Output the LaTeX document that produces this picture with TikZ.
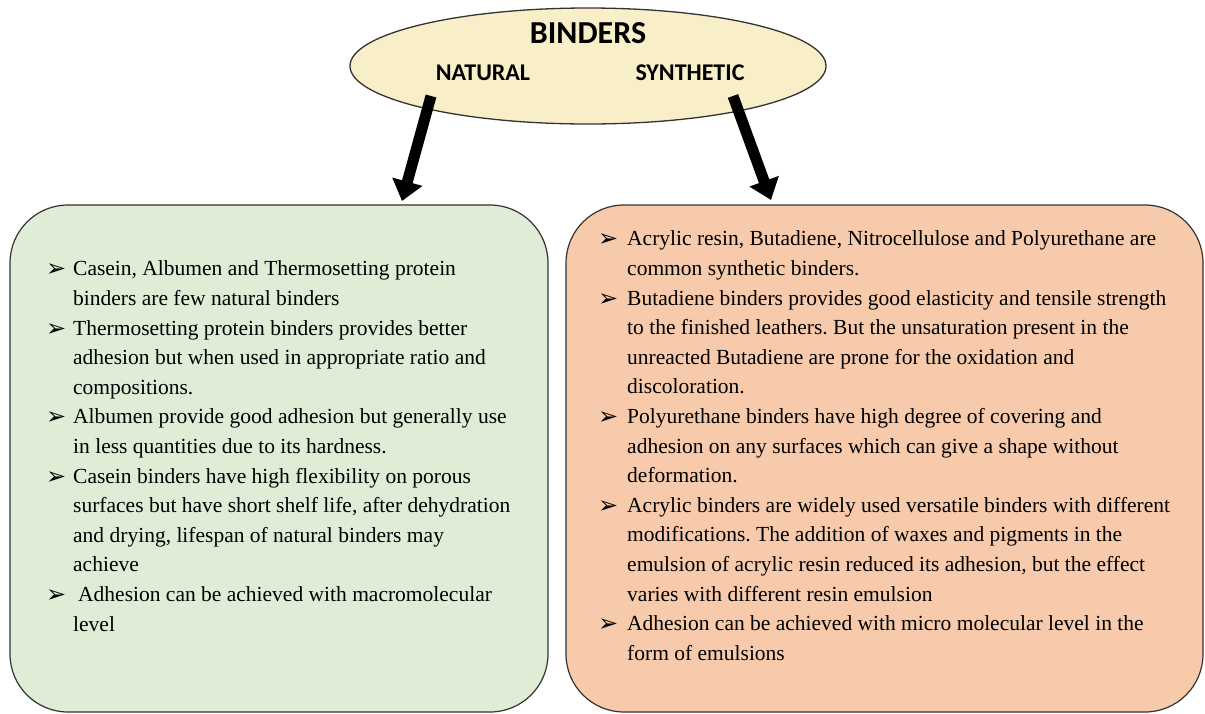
\documentclass[tikz,border=0pt]{standalone}
\usepackage{fontspec}
\setmainfont{Liberation Serif}
\newfontfamily\headfont{Carlito}
\newfontfamily\symfont{DejaVu Sans}
\usetikzlibrary{arrows.meta,shapes.geometric}
\frenchspacing

\definecolor{ellfill}{HTML}{F8EEC8}
\definecolor{natfill}{HTML}{E0EDD6}
\definecolor{synfill}{HTML}{F7CAAB}

\newcommand{\bul}{\raisebox{-1pt}{\symfont\fontsize{24}{24}\selectfont ➢}}

\tikzset{
  box/.style={draw=black!80, line width=1.2pt, rounded corners=58pt,
    minimum height=507pt},
  bigarrow/.style={line width=11pt, -{Triangle[width=30pt,length=20pt]}},
  itemtext/.style={anchor=north west, inner sep=0pt,
    font=\fontsize{21.5}{29.6}\selectfont},
  headtext/.style={font=\headfont\bfseries\fontsize{24}{24}\selectfont},
}

\begin{document}
\begin{tikzpicture}[x=1pt,y=-1pt]
\useasboundingbox (0,0) rectangle (1205,713);

% top
\node[ellipse, draw=black!80, line width=1.3pt, fill=ellfill,
  minimum width=476pt, minimum height=116pt] (ell) at (588,66) {};
\node[font=\headfont\bfseries\fontsize{32}{32}\selectfont] (title) at (588,33) {BINDERS};
\node[headtext] (nat) at (483,73) {NATURAL};
\node[headtext] (syn) at (690,73) {SYNTHETIC};

% boxes
\node[box, fill=natfill, minimum width=538pt] (natbox) at (279,458.5) {};
\node[box, fill=synfill, minimum width=637pt] (synbox) at (884.5,458.5) {};

\coordinate (natfrom) at (431,96);
\coordinate (natto) at (402,201);
\coordinate (synfrom) at (733,96);
\coordinate (synto) at (771,200);

\draw [bigarrow] (natfrom) -- (natto);
\draw [bigarrow] (synfrom) -- (synto);

\node[itemtext] (nattext) at (46,255) {\begin{tabular}{@{}p{27pt}@{}l@{}}
\bul & Casein, Albumen and Thermosetting protein\\
 & binders are few natural binders\\
\bul & Thermosetting protein binders provides better\\
 & adhesion but when used in appropriate ratio and\\
 & compositions.\\
\bul & Albumen provide good adhesion but generally use\\
 & in less quantities due to its hardness.\\
\bul & Casein binders have high flexibility on porous\\
 & surfaces but have short shelf life, after dehydration\\
 & and drying, lifespan of natural binders may\\
 & achieve\\
\bul & \hspace{5pt}Adhesion can be achieved with macromolecular\\
 & level
\end{tabular}};

\node[itemtext] (syntext) at (598,225) {\begin{tabular}{@{}p{29pt}@{}l@{}}
\bul & Acrylic resin, Butadiene, Nitrocellulose and Polyurethane are\\
 & common synthetic binders.\\
\bul & Butadiene binders provides good elasticity and tensile strength\\
 & to the finished leathers. But the unsaturation present in the\\
 & unreacted Butadiene are prone for the oxidation and\\
 & discoloration.\\
\bul & Polyurethane binders have high degree of covering and\\
 & adhesion on any surfaces which can give a shape without\\
 & deformation.\\
\bul & Acrylic binders are widely used versatile binders with different\\
 & modifications. The addition of waxes and pigments in the\\
 & emulsion of acrylic resin reduced its adhesion, but the effect\\
 & varies with different resin emulsion\\
\bul & Adhesion can be achieved with micro molecular level in the\\
 & form of emulsions
\end{tabular}};

\end{tikzpicture}
\end{document}
